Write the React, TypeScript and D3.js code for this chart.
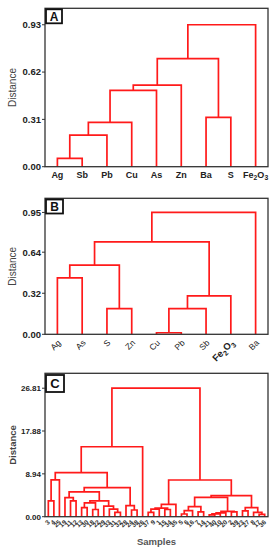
import React from "react";
import * as d3 from "d3";

type Link = [number, number, number];

// Panel A
const leavesA = ["Ag", "Sb", "Pb", "Cu", "As", "Zn", "Ba", "S", "Fe2O3"];
const linkageA: Link[] = [
  [0, 1, 0.055],
  [9, 2, 0.207],
  [10, 3, 0.29],
  [11, 4, 0.5],
  [12, 5, 0.535],
  [6, 7, 0.323],
  [13, 14, 0.708],
  [15, 8, 0.93],
];
const ticksA = ["0.00", "0.31", "0.62", "0.93"];

// Panel B
const leavesB = ["Ag", "As", "S", "Zn", "Cu", "Pb", "Sb", "Fe2O3", "Ba"];
const linkageB: Link[] = [
  [0, 1, 0.44],
  [2, 3, 0.2],
  [9, 10, 0.54],
  [4, 5, 0.012],
  [12, 6, 0.2],
  [13, 7, 0.3],
  [11, 14, 0.72],
  [15, 8, 0.95],
];
const ticksB = ["0.00", "0.32", "0.64", "0.95"];

// Panel C
const leavesC = [
  "3", "4", "25", "19", "11", "12", "13", "30", "18", "22", "29", "33", "31", "32", "28", "24", "38", "26",
  "37", "9", "1", "15", "34", "35", "5", "6", "16", "7", "14", "21", "40", "10", "20", "2", "39", "23", "27", "8", "17", "36",
];
const linkageC: Link[] = [
  [0, 1, 3.3],
  [40, 2, 7.7],
  [4, 5, 3.3],
  [3, 42, 4.0],
  [6, 7, 1.9],
  [8, 9, 1.5],
  [44, 45, 2.9],
  [12, 13, 0.9],
  [11, 47, 1.6],
  [10, 48, 2.2],
  [46, 49, 3.3],
  [43, 50, 5.2],
  [15, 16, 1.4],
  [14, 52, 2.3],
  [51, 53, 6.05],
  [41, 54, 9.2],
  [55, 17, 14.6],
  [18, 19, 0.9],
  [57, 20, 1.6],
  [21, 22, 1.5],
  [58, 59, 1.8],
  [60, 23, 2.57],
  [24, 25, 0.56],
  [62, 26, 1.25],
  [27, 28, 1.0],
  [63, 64, 2.09],
  [29, 30, 0.4],
  [66, 31, 0.6],
  [67, 32, 0.8],
  [33, 34, 1.0],
  [68, 69, 1.1],
  [65, 70, 4.04],
  [35, 36, 1.2],
  [38, 39, 0.5],
  [37, 73, 0.9],
  [72, 74, 1.88],
  [71, 75, 4.38],
  [61, 76, 7.66],
  [56, 77, 26.81],
];
const ticksC = ["0.00", "8.94", "17.88", "26.81"];

const FONT = "Arial, 'Liberation Sans', sans-serif";
const RED = "#ff1a1a";
const LEFT = 45;
const RIGHT = 268;

function LeafText({ label, size }: { label: string; size: number }) {
  if (label === "Fe2O3") {
    return (
      <>
        Fe
        <tspan dy={size * 0.3} fontSize={size * 0.75}>2</tspan>
        <tspan dy={-size * 0.3}>O</tspan>
        <tspan dy={size * 0.3} fontSize={size * 0.75}>3</tspan>
      </>
    );
  }
  return <>{label}</>;
}

interface DendroProps {
  leaves: string[];
  linkage: Link[];
  ticks: string[];
  top: number;
  bottom: number;
  letter: string;
  box: { x: number; y: number; w: number; h: number; size: number };
  mode: "flat" | "tilt" | "tiny";
  pad: number;
  tickSize: number;
  yTitleBold?: boolean;
  xTitle?: string;
}

function Dendrogram({ leaves, linkage, ticks, top, bottom, letter, box, mode, pad, tickSize, yTitleBold, xTitle }: DendroProps) {
  const n = leaves.length;
  const x = d3.scalePoint<number>().domain(d3.range(n)).range([LEFT, RIGHT]).padding(pad);
  const maxTick = +ticks[ticks.length - 1];
  const y = d3.scaleLinear().domain([0, maxTick * 1.116]).range([bottom, top]);

  const nx: number[] = leaves.map((_, i) => x(i) as number);
  const nh: number[] = leaves.map(() => 0);
  linkage.forEach(([l, r, h]) => {
    nx.push((nx[l] + nx[r]) / 2);
    nh.push(h);
  });

  const line = d3.line();
  const paths = linkage.map(([l, r, h]) =>
    line([
      [nx[l], y(nh[l])],
      [nx[l], y(h)],
      [nx[r], y(h)],
      [nx[r], y(nh[r])],
    ]) as string
  );

  const midY = (top + bottom) / 2;

  return (
    <g fontFamily={FONT}>
      {paths.map((d, i) => (
        <path key={i} d={d} fill="none" stroke={RED} strokeWidth={1.7} />
      ))}
      <rect x={LEFT} y={top} width={RIGHT - LEFT} height={bottom - top} fill="none" stroke="#333" strokeWidth={1.3} />
      {ticks.map((t) => (
        <g key={t}>
          <line x1={LEFT - 3} x2={LEFT} y1={y(+t)} y2={y(+t)} stroke="#333" strokeWidth={1} />
          <text x={LEFT - 4} y={y(+t)} dy="0.35em" textAnchor="end" fontSize={tickSize} fontWeight="bold" fill="#222">
            {t}
          </text>
        </g>
      ))}
      <text
        transform={`translate(${yTitleBold ? 15.5 : 16},${midY}) rotate(-90)`}
        textAnchor="middle"
        fontSize={yTitleBold ? 9.5 : 10}
        fontWeight={yTitleBold ? "bold" : "normal"}
        fill="#444"
      >
        Distance
      </text>
      {leaves.map((lab, i) => {
        const lx = x(i) as number;
        if (mode === "flat") {
          return (
            <text key={i} x={lx} y={bottom + 11} textAnchor="middle" fontSize={9} fontWeight="bold" fill="#222">
              <LeafText label={lab} size={9} />
            </text>
          );
        }
        if (mode === "tilt") {
          const fe = lab === "Fe2O3";
          return (
            <text
              key={i}
              transform={`translate(${lx + 4},${bottom + 9}) rotate(-45)`}
              textAnchor="end"
              fontSize={fe ? 9.5 : 8.5}
              fontWeight={fe ? 900 : "normal"}
              fill="#222"
            >
              <LeafText label={lab} size={fe ? 9.5 : 8.5} />
            </text>
          );
        }
        return (
          <text
            key={i}
            transform={`translate(${lx + 2},${bottom + 6}) rotate(-45)`}
            textAnchor="end"
            fontSize={6.5}
            fontWeight="bold"
            fill="#333"
          >
            {lab}
          </text>
        );
      })}
      <rect x={box.x} y={box.y} width={box.w} height={box.h} fill="#fff" stroke="#111" strokeWidth={1.8} />
      <text
        x={box.x + box.w / 2}
        y={box.y + box.h / 2}
        dy="0.36em"
        textAnchor="middle"
        fontSize={box.size}
        fontWeight="bold"
        fill="#111"
      >
        {letter}
      </text>
      {xTitle && (
        <text x={(LEFT + RIGHT) / 2} y={545} textAnchor="middle" fontSize={9.5} fontWeight="bold" fill="#555">
          {xTitle}
        </text>
      )}
    </g>
  );
}

export default function App() {
  return (
    <svg
      width={274}
      height={550}
      style={{ position: "absolute", left: 0, top: 0, background: "#fff" }}
    >
      <rect width={274} height={550} fill="#fff" />
      <Dendrogram
        leaves={leavesA}
        linkage={linkageA}
        ticks={ticksA}
        top={8.3}
        bottom={166.7}
        letter="A"
        box={{ x: 46, y: 9.3, w: 16, h: 14, size: 12 }}
        mode="flat"
        pad={0.5}
        tickSize={9.5}
      />
      <Dendrogram
        leaves={leavesB}
        linkage={linkageB}
        ticks={ticksB}
        top={198.3}
        bottom={334.3}
        letter="B"
        box={{ x: 46, y: 199.5, w: 17, h: 14, size: 12 }}
        mode="tilt"
        pad={0.5}
        tickSize={9.5}
      />
      <Dendrogram
        leaves={leavesC}
        linkage={linkageC}
        ticks={ticksC}
        top={373.3}
        bottom={516.7}
        letter="C"
        box={{ x: 46, y: 375, w: 18, h: 17, size: 13 }}
        mode="tiny"
        pad={0.6}
        tickSize={8}
        yTitleBold
        xTitle="Samples"
      />
    </svg>
  );
}
